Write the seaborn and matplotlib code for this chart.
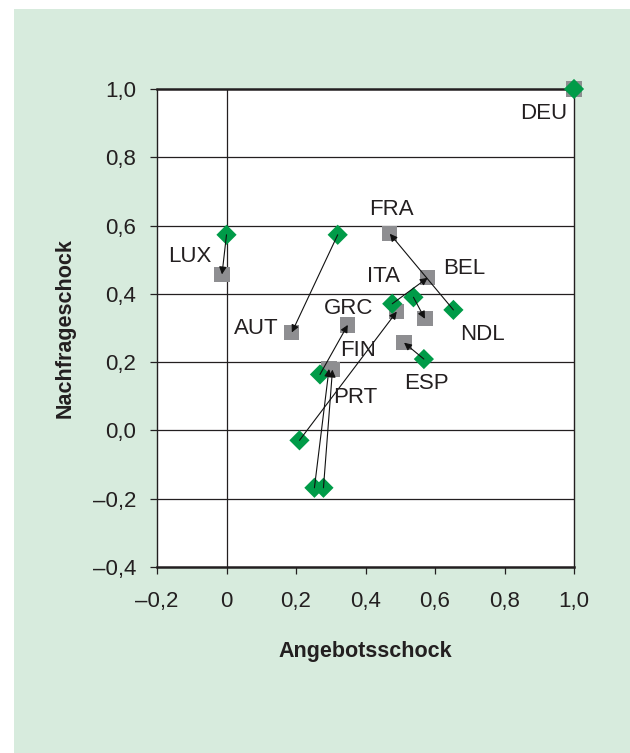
import numpy as np
import pandas as pd
import seaborn as sns
from matplotlib import pyplot as plt
from matplotlib.patches import Rectangle

# Startpunkte (gruen) und Endpunkte (grau) je Land
laender = ['DEU', 'LUX', 'AUT', 'FRA', 'BEL', 'ITA', 'NDL', 'GRC', 'FIN', 'PRT', 'ESP']
start_x = [1.00, 0.00, 0.32, 0.653, 0.477, 0.538, 0.210, 0.269, 0.253, 0.279, 0.568]
start_y = [1.00, 0.573, 0.573, 0.353, 0.371, 0.390, -0.029, 0.164, -0.168, -0.168, 0.209]
ende_x = [1.00, -0.013, 0.188, 0.470, 0.579, 0.571, 0.490, 0.349, 0.295, 0.305, 0.511]
ende_y = [1.00, 0.457, 0.287, 0.576, 0.447, 0.327, 0.348, 0.309, 0.180, 0.178, 0.257]

# Beschriftungen
label_text = ['DEU', 'LUX', 'AUT', 'FRA', 'BEL', 'ITA', 'NDL', 'GRC', 'FIN', 'PRT', 'ESP']
label_x = [0.914, -0.105, 0.085, 0.476, 0.684, 0.451, 0.736, 0.352, 0.378, 0.370, 0.575]
label_y = [0.928, 0.510, 0.300, 0.647, 0.474, 0.451, 0.281, 0.357, 0.234, 0.097, 0.138]

xticks = [-0.2, 0, 0.2, 0.4, 0.6, 0.8, 1.0]
xtick_labels = ['–0,2', '0', '0,2', '0,4', '0,6', '0,8', '1,0']
yticks = [-0.4, -0.2, 0.0, 0.2, 0.4, 0.6, 0.8, 1.0]
ytick_labels = ['–0,4', '–0,2', '0,0', '0,2', '0,4', '0,6', '0,8', '1,0']

gruen = '#009b48'
grau = '#8e8e91'
hinter = '#d7ebdd'
text_farbe = '#231f20'

sns.set_style('white')
plt.rcParams['font.family'] = ['Liberation Sans', 'DejaVu Sans']

df = pd.DataFrame({'land': laender, 'x0': start_x, 'y0': start_y, 'x1': ende_x, 'y1': ende_y})

fig = plt.figure(figsize=(6.3, 7.53), dpi=100, facecolor='white')
fig.patches.append(Rectangle((14 / 630, 0), 1 - 14 / 630, 1 - 9 / 753,
                             transform=fig.transFigure, facecolor=hinter,
                             edgecolor='none', zorder=-10))
ax = fig.add_axes([157 / 630, 1 - 567 / 753, (574 - 157) / 630, (567 - 89) / 753])
ax.set_facecolor('white')

for y in yticks[1:-1]:
    ax.axhline(y, color=text_farbe, lw=0.9, zorder=1)
ax.axvline(0, color=text_farbe, lw=0.9, zorder=1)

sns.scatterplot(data=df, x='x1', y='y1', marker='s', s=120, color=grau,
                edgecolor='none', ax=ax, zorder=3, clip_on=False)
sns.scatterplot(data=df, x='x0', y='y0', marker='D', s=106, color=gruen,
                edgecolor='none', ax=ax, zorder=4, clip_on=False)

for _, r in df.iterrows():
    if r.x0 == r.x1 and r.y0 == r.y1:
        continue
    ax.annotate('', xy=(r.x1, r.y1), xytext=(r.x0, r.y0),
                arrowprops=dict(arrowstyle='-|>', color='#111111', lw=0.8,
                                mutation_scale=11, shrinkA=0, shrinkB=0),
                zorder=5)

for t, lx, ly in zip(label_text, label_x, label_y):
    ax.text(lx, ly, t, ha='center', va='center', fontsize=16,
            color=text_farbe, zorder=6)

ax.set_xlim(-0.2, 1.0)
ax.set_ylim(-0.4, 1.0)
ax.set_xticks(xticks)
ax.set_xticklabels(xtick_labels)
ax.set_yticks(yticks)
ax.set_yticklabels(ytick_labels)
ax.tick_params(axis='both', direction='out', length=5, width=0.9,
               color=text_farbe, labelsize=16, labelcolor=text_farbe)
ax.tick_params(axis='x', pad=12, bottom=True)
ax.tick_params(axis='y', pad=10, left=True)

for side, sp in ax.spines.items():
    sp.set_color(text_farbe)
    sp.set_linewidth(1.0)
ax.spines['top'].set_linewidth(1.8)
ax.spines['bottom'].set_linewidth(1.8)

ax.set_xlabel('Angebotsschock', fontsize=15.5, fontweight='bold',
              color=text_farbe, labelpad=21)
ax.set_ylabel('Nachfrageschock', fontsize=15.5, fontweight='bold',
              color=text_farbe, labelpad=12)

fig.savefig('out.png', dpi=100, facecolor='white')
